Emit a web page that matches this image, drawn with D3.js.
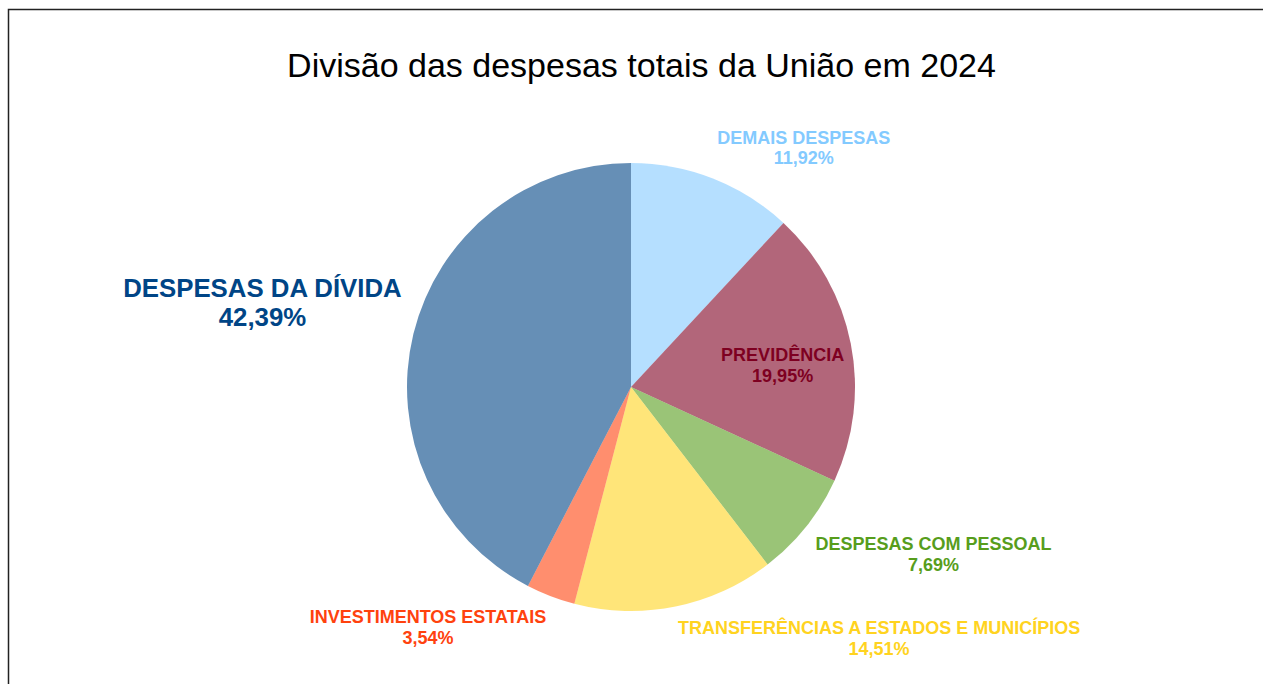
<!DOCTYPE html>
<html>
<head>
<meta charset="utf-8">
<script src="https://cdn.jsdelivr.net/npm/d3@7"></script>
<style>
  html, body { margin: 0; padding: 0; background: #fff; }
  svg { display: block; }
  text { font-family: "Liberation Sans", Arial, sans-serif; }
</style>
</head>
<body>
<svg id="chart" width="1263" height="684"></svg>
<script>
// ---- Data ----
const title = "Divisão das despesas totais da União em 2024";
const categories = [
  "DEMAIS DESPESAS",
  "PREVIDÊNCIA",
  "DESPESAS COM PESSOAL",
  "TRANSFERÊNCIAS A ESTADOS E MUNICÍPIOS",
  "INVESTIMENTOS ESTATAIS",
  "DESPESAS DA DÍVIDA"
];
const values = [11.92, 19.95, 7.69, 14.51, 3.54, 42.39];
const valueLabels = ["11,92%", "19,95%", "7,69%", "14,51%", "3,54%", "42,39%"];

// ---- Styles ----
const colors = ["#83caff", "#7e0021", "#579d1c", "#ffd320", "#ff420e", "#004586"];
const labelInside = [false, true, false, false, false, false];
const labelSize = [18, 18, 18, 18, 18, 25.8];

const svg = d3.select("#chart");

// frame
svg.append("rect")
  .attr("x", 8.5).attr("y", 9.5)
  .attr("width", 1300).attr("height", 700)
  .attr("fill", "#fff")
  .attr("stroke", "#222").attr("stroke-width", 1.5);

// title
svg.append("text")
  .attr("x", 641.5).attr("y", 77)
  .attr("text-anchor", "middle")
  .attr("font-size", 34)
  .attr("fill", "#000")
  .text(title);

const cx = 631, cy = 387, R = 224;
const g = svg.append("g").attr("transform", `translate(${cx},${cy})`);

const pie = d3.pie().sort(null).value(d => d.v).startAngle(0).endAngle(2 * Math.PI);
const data = categories.map((c, i) => ({ c, v: values[i], lbl: valueLabels[i], i }));
const arcs = pie(data);
const arc = d3.arc().innerRadius(0).outerRadius(R);

g.selectAll("path.slice")
  .data(arcs)
  .enter().append("path")
  .attr("class", "slice")
  .attr("d", arc)
  .attr("fill", d => colors[d.data.i])
  .attr("fill-opacity", 0.6);

// labels
arcs.forEach(d => {
  const i = d.data.i;
  const fs = labelSize[i];
  const lh = fs * 1.12;
  const mid = (d.startAngle + d.endAngle) / 2;
  const sin = Math.sin(mid), cos = Math.cos(mid);
  const t = g.append("text")
    .attr("font-size", fs)
    .attr("font-weight", "bold")
    .attr("fill", colors[i])
    .attr("text-anchor", "middle");
  const l1 = t.append("tspan").text(d.data.c);
  const l2 = t.append("tspan").text(d.data.lbl);
  const w = Math.max(l1.node().getComputedTextLength(), l2.node().getComputedTextLength());
  let xc, b1;
  if (labelInside[i]) {
    const rr = R * 0.69;
    xc = rr * sin;
    const ym = -rr * cos + 8;
    b1 = ym - lh / 2 + 0.36 * fs;
  } else {
    const rr = R + 12;
    const px = rr * sin, py = -rr * cos;
    xc = sin >= 0 ? px + w / 2 : px - w / 2;
    if (cos > 0) {
      b1 = py - 0.2 * fs - lh;
    } else {
      b1 = py + 0.9 * fs;
    }
  }
  l1.attr("x", xc).attr("y", b1);
  l2.attr("x", xc).attr("y", b1 + lh);
});
</script>
</body>
</html>
